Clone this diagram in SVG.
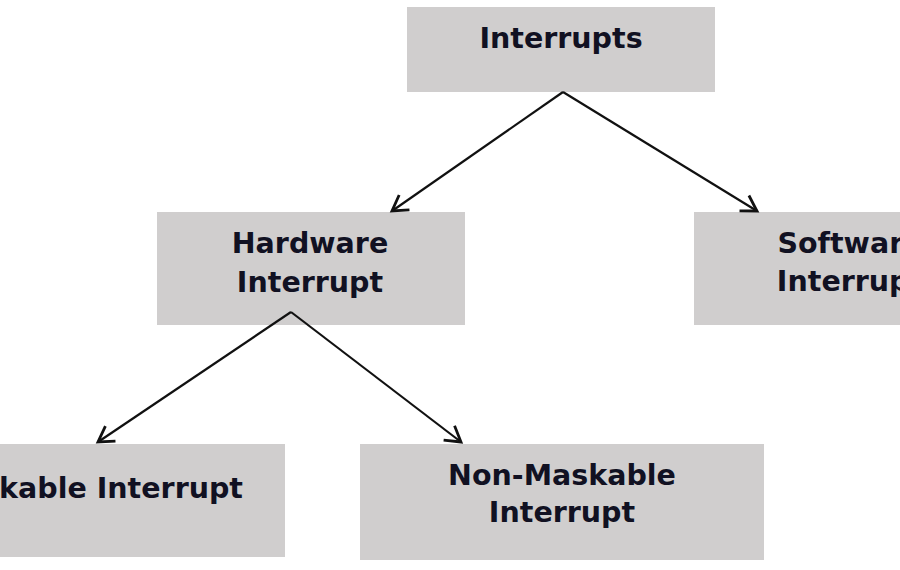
<svg xmlns="http://www.w3.org/2000/svg" width="900" height="570" viewBox="0 0 900 570">
<defs>
<style>
.box{fill:#d0cece;}
.t{font-family:"DejaVu Sans",Verdana,sans-serif;font-weight:bold;font-size:28.5px;fill:#111122;text-anchor:middle;}
.c{stroke:#111;stroke-width:2.2;fill:none;}
</style>
<marker id="ah" markerUnits="userSpaceOnUse" markerWidth="24" markerHeight="24" viewBox="-20 -12 24 24" refX="0" refY="0" orient="auto">
<polyline points="-15,-9 0,0 -15,9" fill="none" stroke="#111" stroke-width="2.8" stroke-linejoin="miter"/>
</marker>
</defs>
<rect width="900" height="570" fill="#ffffff"/>
<g id="interrupts">
<rect class="box" x="407" y="7" width="308" height="85"/>
<text class="t" x="561" y="48">Interrupts</text>
</g>
<g id="hardware">
<rect class="box" x="157" y="212" width="308" height="113"/>
<text class="t" x="310" y="253">Hardware</text>
<text class="t" x="310" y="292">Interrupt</text>
</g>
<g id="software">
<rect class="box" x="694" y="212" width="308" height="113"/>
<text class="t" x="850" y="253">Software</text>
<text class="t" x="850" y="291">Interrupt</text>
</g>
<g id="maskable">
<rect class="box" x="-60" y="444" width="345" height="113"/>
<text class="t" x="243" y="498" style="text-anchor:end">Maskable Interrupt</text>
</g>
<g id="nonmaskable">
<rect class="box" x="360" y="444" width="404" height="116"/>
<text class="t" x="562" y="485">Non-Maskable</text>
<text class="t" x="562" y="522">Interrupt</text>
</g>
<g id="connectors">
<line class="c" x1="563" y1="92" x2="392" y2="211" marker-end="url(#ah)"/>
<line class="c" x1="563" y1="92" x2="757" y2="211" marker-end="url(#ah)"/>
<line class="c" x1="291" y1="312" x2="98" y2="442" marker-end="url(#ah)"/>
<line class="c" x1="291" y1="312" x2="461" y2="442" marker-end="url(#ah)"/>
</g>
</svg>
